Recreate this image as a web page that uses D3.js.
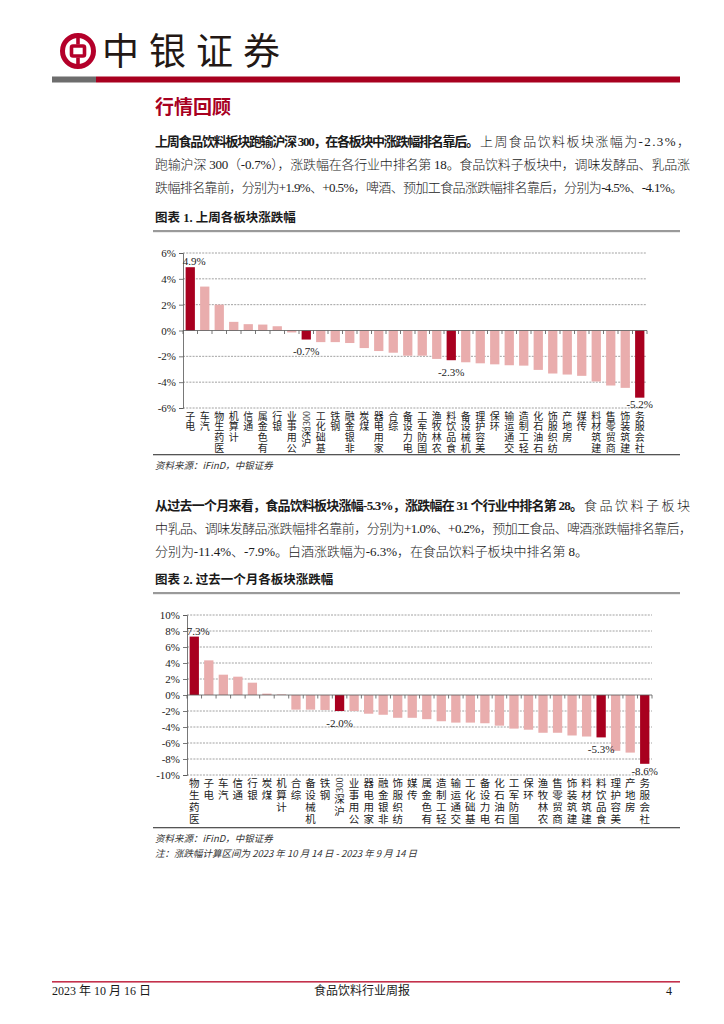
<!DOCTYPE html>
<html>
<head>
<meta charset="utf-8">
<script src="https://cdn.jsdelivr.net/npm/d3@7"></script>
<style>
body { margin: 0; background: #fff; }
svg { display: block; }
text { font-family: "Liberation Serif", "Noto Sans CJK SC", serif; }
.cjk { font-family: "Noto Sans CJK SC", sans-serif; }
</style>
</head>
<body>
<div id="page"></div>
<script>
// 上周各板块涨跌幅 (%)
var weekNames = ["电子","汽车","医药生物","计算机","通信","有色金属","银行","公用事业","沪深300","基础化工",
  "钢铁","非银金融","煤炭","家用电器","综合","电力设备","国防军工","农林牧渔","食品饮料","机械设备",
  "美容护理","环保","交通运输","轻工制造","石油石化","纺织服饰","房地产","传媒","建筑材料","商贸零售",
  "建筑装饰","社会服务"];
var weekValues = [4.9, 3.4, 2.0, 0.67, 0.49, 0.46, 0.33, -0.15, -0.7, -0.9,
  -0.9, -0.97, -1.36, -1.59, -1.72, -1.95, -1.95, -2.2, -2.3, -2.46,
  -2.54, -2.62, -2.69, -2.72, -3.05, -3.33, -3.41, -3.51, -3.95, -4.26,
  -4.44, -5.2];
var weekTicks = [6, 4, 2, 0, -2, -4, -6];
var weekMarked = ["电子","沪深300","食品饮料","社会服务"];

// 过去一个月各板块涨跌幅 (%)
var monthNames = ["医药生物","电子","汽车","通信","银行","煤炭","计算机","综合","机械设备","钢铁",
  "沪深300","公用事业","家用电器","非银金融","纺织服饰","传媒","有色金属","轻工制造","交通运输","基础化工",
  "电力设备","石油石化","国防军工","环保","农林牧渔","商贸零售","建筑装饰","建筑材料","食品饮料","美容护理",
  "房地产","社会服务"];
var monthValues = [7.3, 4.33, 2.54, 2.29, 1.54, 0.17, 0.08, -1.83, -1.83, -1.87,
  -2.0, -2.0, -2.34, -2.47, -2.85, -2.85, -3.02, -3.28, -3.45, -3.45,
  -3.53, -3.83, -4.2, -4.34, -4.72, -4.72, -5.06, -5.19, -5.3, -6.98,
  -7.2, -8.6];
var monthTicks = [10, 8, 6, 4, 2, 0, -2, -4, -6, -8, -10];
var monthMarked = ["医药生物","沪深300","食品饮料","社会服务"];

var RED = "#a8001f", PINK = "#e9adad", TXT = "#1a1a1a";

var svg = d3.select("#page").append("svg")
    .attr("width", 724)
    .attr("height", 1024)
    .attr("viewBox", [0, 0, 724, 1024]);

// ---- header ----
var logo = svg.append("g").attr("transform", "translate(78,51)")
    .attr("stroke", "#b4002a").attr("fill", "none");
logo.append("circle").attr("r", 15.5).attr("stroke-width", 5);
logo.append("rect").attr("x", -6.5).attr("y", -5).attr("width", 13).attr("height", 10)
    .attr("rx", 1.5).attr("stroke-width", 3.6);
logo.append("line").attr("y1", -16).attr("y2", -6.5).attr("stroke-width", 3.6);
logo.append("line").attr("y1", 6.5).attr("y2", 16).attr("stroke-width", 3.6);

svg.append("text").attr("class", "cjk")
    .attr("x", 102).attr("y", 65)
    .attr("font-size", 37).attr("fill", "#231815")
    .attr("textLength", 178).attr("lengthAdjust", "spacing")
    .text("中银证券");

svg.append("rect").attr("x", 52).attr("y", 76.5).attr("width", 44).attr("height", 6).attr("fill", "#6d6d6d");
svg.append("rect").attr("x", 96).attr("y", 76.5).attr("width", 584).attr("height", 6).attr("fill", RED);

svg.append("text").attr("class", "cjk")
    .attr("x", 155).attr("y", 114)
    .attr("font-size", 19).attr("font-weight", "bold").attr("fill", "#a8001f")
    .text("行情回顾");

// ---- paragraphs: each line fitted to its measured width ----
function line(x0, x1, y, str, bold) {
  svg.append("text")
      .attr("x", x0).attr("y", y)
      .attr("font-size", 13).attr("fill", TXT)
      .attr("font-weight", bold ? "bold" : 300)
      .attr("textLength", x1 - x0).attr("lengthAdjust", "spacing")
      .text(str);
}

line(155, 479, 146, "上周食品饮料板块跑输沪深 300，在各板块中涨跌幅排名靠后。", true);
line(480, 690, 146, "上周食品饮料板块涨幅为-2.3%，");
line(155, 690, 169, "跑输沪深 300（-0.7%），涨跌幅在各行业中排名第 18。食品饮料子板块中，调味发酵品、乳品涨");
line(155, 683, 192, "跌幅排名靠前，分别为+1.9%、+0.5%，啤酒、预加工食品涨跌幅排名靠后，分别为-4.5%、-4.1%。");

line(155, 583, 510, "从过去一个月来看，食品饮料板块涨幅-5.3%，涨跌幅在 31 个行业中排名第 28。", true);
line(584, 690, 510, "食品饮料子板块");
line(155, 692, 533, "中乳品、调味发酵品涨跌幅排名靠前，分别为+1.0%、+0.2%，预加工食品、啤酒涨跌幅排名靠后，");
line(155, 588, 556, "分别为-11.4%、-7.9%。白酒涨跌幅为-6.3%，在食品饮料子板块中排名第 8。");

// ---- chart block ----
function chartBlock(o) {
  svg.append("text").attr("x", 155).attr("y", o.titleY)
      .attr("font-size", 12.5).attr("font-weight", "bold").attr("fill", TXT)
      .text(o.title);
  svg.append("rect").attr("x", 153).attr("y", o.titleY + 8).attr("width", 527).attr("height", 2.2)
      .attr("fill", "#9a9a9a");

  var x = d3.scaleBand().domain(o.names).range([o.left, o.right]).paddingInner(0.36).paddingOuter(0.18);
  var y = d3.scaleLinear().domain(d3.extent(o.ticks)).range([o.bottom, o.top]);
  var isMarked = function(n) { return o.marked.indexOf(n) >= 0; };

  var g = svg.append("g");

  // gridlines
  g.selectAll(".grid").data(o.ticks.filter(function(t) { return t !== 0; }))
    .enter().append("line")
      .attr("x1", o.left).attr("x2", o.right)
      .attr("y1", function(d) { return y(d); }).attr("y2", function(d) { return y(d); })
      .attr("stroke", "#8a8a8a").attr("stroke-width", 0.8).attr("stroke-dasharray", "2,1.2");

  // y axis
  var yAxis = g.append("g").attr("transform", "translate(" + o.left + ",0)")
      .call(d3.axisLeft(y).tickValues(o.ticks).tickSize(4).tickPadding(3)
        .tickFormat(function(d) { return d + "%"; }));
  yAxis.select(".domain").attr("stroke", "#555").attr("stroke-width", 0.8);
  yAxis.selectAll(".tick line").attr("stroke", "#555").attr("stroke-width", 0.8);
  yAxis.selectAll(".tick text").attr("font-size", 11).attr("fill", "#222")
      .attr("font-family", "Liberation Serif");

  // bars
  g.selectAll(".bar").data(o.values)
    .enter().append("rect")
      .attr("x", function(d, i) { return x(o.names[i]); })
      .attr("width", x.bandwidth())
      .attr("y", function(d) { return y(Math.max(0, d)); })
      .attr("height", function(d) { return Math.abs(y(d) - y(0)); })
      .attr("fill", function(d, i) { return isMarked(o.names[i]) ? RED : PINK; });

  // zero axis with ticks between categories
  g.append("line").attr("x1", o.left).attr("x2", o.right)
      .attr("y1", y(0)).attr("y2", y(0)).attr("stroke", "#555").attr("stroke-width", 0.8);
  var bounds = d3.range(o.names.length + 1).map(function(i) { return o.left + i * x.step(); });
  g.selectAll(".xt").data(bounds)
    .enter().append("line")
      .attr("x1", function(d) { return d; }).attr("x2", function(d) { return d; })
      .attr("y1", y(0)).attr("y2", y(0) + 3.5)
      .attr("stroke", "#555").attr("stroke-width", 0.8);

  // value labels on highlighted bars, outside the bar end, kept inside the plot
  g.selectAll(".vl").data(o.values.map(function(v, i) { return { v: v, n: o.names[i] }; })
      .filter(function(d) { return isMarked(d.n); }))
    .enter().append("text")
      .attr("x", function(d) { return x(d.n) + x.bandwidth() / 2 + (d.v > 0 ? 4 : 0); })
      .attr("y", function(d) { return d.v > 0 ? y(d.v) - 2 : Math.min(y(d.v) + 15.5, o.bottom); })
      .attr("text-anchor", "middle")
      .attr("font-size", 11).attr("fill", "#222").attr("font-family", "Liberation Serif")
      .text(function(d) { return d.v.toFixed(1) + "%"; });

  // vertical category labels: upright characters, read bottom-to-top, hung from the plot bottom
  var lab = g.selectAll(".cl").data(o.names).enter().append("g")
      .attr("transform", function(d) { return "translate(" + (x(d) + x.bandwidth() / 2) + "," + (o.bottom + 3) + ")"; });
  lab.each(function(d) {
    var sel = d3.select(this);
    var digits = (d.match(/[0-9]+/) || [""])[0];
    var chars = d.replace(/[0-9]+/, "").split("").reverse();
    var top = 0;
    if (digits) {
      sel.append("text").attr("transform", "translate(3.5,15) rotate(-90)")
          .attr("font-size", o.labelSize).attr("fill", "#222").attr("font-family", "Liberation Serif").text(digits);
      top = 16;
    }
    var t = sel.append("text").attr("class", "cjk").attr("text-anchor", "middle")
        .attr("font-size", o.labelSize).attr("fill", "#222");
    chars.forEach(function(c, k) {
      t.append("tspan").attr("x", 0).attr("y", top + o.labelSize * 0.88 + k * o.labelStep).text(c);
    });
  });

  // bottom rule and source
  svg.append("rect").attr("x", 153).attr("y", o.ruleY).attr("width", 527).attr("height", 1.3).attr("fill", "#555");
  svg.append("text").attr("class", "cjk").attr("x", 155).attr("y", o.ruleY + 15)
      .attr("font-size", 9.5).attr("font-style", "italic").attr("fill", "#333")
      .text("资料来源：iFinD，中银证券");
}

chartBlock({
  title: "图表 1. 上周各板块涨跌幅", titleY: 222,
  names: weekNames, values: weekValues, ticks: weekTicks, marked: weekMarked,
  left: 183, right: 647, top: 253, bottom: 408, ruleY: 454, labelSize: 10, labelStep: 10.6
});

chartBlock({
  title: "图表 2. 过去一个月各板块涨跌幅", titleY: 584,
  names: monthNames, values: monthValues, ticks: monthTicks, marked: monthMarked,
  left: 187, right: 652, top: 615, bottom: 775, ruleY: 827, labelSize: 10.5, labelStep: 12
});

svg.append("text").attr("class", "cjk").attr("x", 155).attr("y", 857)
    .attr("font-size", 9.5).attr("font-style", "italic").attr("fill", "#333")
    .text("注：涨跌幅计算区间为 2023 年 10 月 14 日 - 2023 年 9 月 14 日");

// ---- footer ----
svg.append("rect").attr("x", 52).attr("y", 981).attr("width", 628).attr("height", 1.6).attr("fill", "#c4314b");
svg.append("text").attr("x", 52).attr("y", 995).attr("font-size", 12).attr("fill", TXT)
    .text("2023 年 10 月 16 日");
svg.append("text").attr("x", 362).attr("y", 995).attr("text-anchor", "middle")
    .attr("font-size", 12).attr("fill", TXT).text("食品饮料行业周报");
svg.append("text").attr("x", 672).attr("y", 995).attr("text-anchor", "end")
    .attr("font-size", 12).attr("fill", TXT).text("4");
</script>
</body>
</html>
